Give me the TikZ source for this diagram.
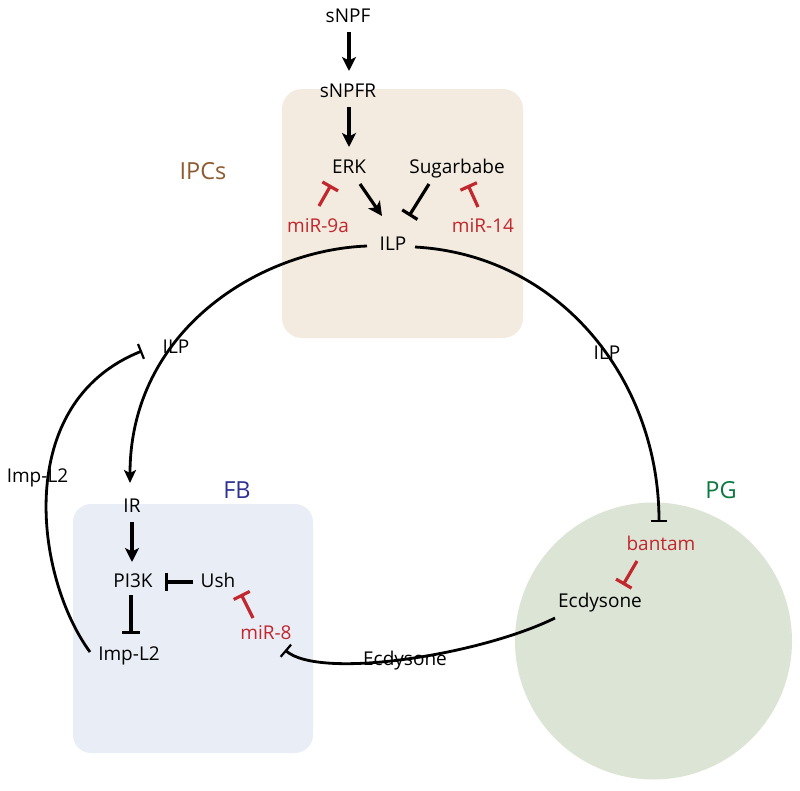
\documentclass[tikz,border=0pt]{standalone}
\usepackage{fontspec}
\setmainfont{Open Sans}
\usetikzlibrary{arrows.meta,calc}
\definecolor{ipcfill}{HTML}{F3EBE0}
\definecolor{fbfill}{HTML}{E9EDF6}
\definecolor{pgfill}{HTML}{DCE5D5}
\definecolor{mirred}{HTML}{C1272D}
\definecolor{ipcbrown}{HTML}{8C5A2E}
\definecolor{fbblue}{HTML}{2E3192}
\definecolor{pggreen}{HTML}{0B7A3E}
\tikzset{
  lbl/.style={anchor=base,inner sep=0pt,text height=13.5pt,text depth=4pt,font=\fontsize{19}{21}\selectfont},
  mir/.style={lbl,text=mirred},
  region/.style={anchor=base,inner sep=0pt,font=\fontsize{23.5}{26}\selectfont},
  act/.style={line width=3.2pt,-{Stealth[length=14pt,width=14pt,inset=3.5pt]}},
  inh/.style={line width=3.2pt,-{Bar[width=18pt]}},
  inhred/.style={inh,draw=mirred},
  arcact/.style={line width=2.8pt,-{Stealth[length=13pt,width=12pt,inset=3pt]}},
  arcinh/.style={line width=2.8pt,-{Bar[width=16pt,line width=2.2pt]}},
}
\begin{document}
\begin{tikzpicture}[x=1pt,y=-1pt]
\useasboundingbox (0,0) rectangle (800,790);
% regions
\fill[ipcfill,rounded corners=20pt] (282,89) rectangle (523,338);
\fill[fbfill,rounded corners=18pt] (73,504) rectangle (313,753);
\fill[pgfill] (653.5,641) circle (138.5);
% region labels
\node[region,text=ipcbrown] (IPCs) at (203,179) {IPCs};
\node[region,text=fbblue] (FB) at (237,498) {FB};
\node[region,text=pggreen] (PG) at (721,498) {PG};
% nodes
\node[lbl] (sNPF) at (348,22) {sNPF};
\node[lbl] (sNPFR) at (348,97) {sNPFR};
\node[lbl] (ERK) at (349,173) {ERK};
\node[lbl] (Sugar) at (457,173) {Sugarbabe};
\node[mir] (miR9a) at (318,232) {miR-9a};
\node[mir] (miR14) at (483,232) {miR-14};
\node[lbl] (ILP) at (393,250) {ILP};
\node[lbl] (ILPl) at (176,353) {ILP};
\node[lbl] (ILPr) at (607,359) {ILP};
\node[lbl] (ImpLab) at (37.5,482) {Imp-L2};
\node[lbl] (IR) at (132,512) {IR};
\node[lbl] (PI3K) at (133,587) {PI3K};
\node[lbl] (Ush) at (218,587) {Ush};
\node[lbl] (ImpL2) at (129,660) {Imp-L2};
\node[mir] (miR8) at (266,639) {miR-8};
\node[lbl] (EcdLab) at (405,665) {Ecdysone};
\node[mir] (bantam) at (661,550) {bantam};
\node[lbl] (Ecd) at (600,607) {Ecdysone};
% IPC connectors
\draw[act] ($(sNPF.base)+(1,10)$) -- ($(sNPFR.base)+(1,-26)$);
\draw[act] ($(sNPFR.base)+(1,10)$) -- ($(ERK.base)+(0,-26)$);
\draw[act] ($(ERK.base)+(11,11)$) -- ($(ILP.base)+(-11,-34)$);
\draw[inh] ($(Sugar.base)+(-28,11)$) -- ($(ILP.base)+(16,-34)$);
\draw[inhred] ($(miR9a.base)+(1,-26)$) -- ($(ERK.base)+(-18,12)$);
\draw[inhred] ($(miR14.base)+(-5,-25)$) -- ($(Sugar.base)+(11,12)$);
% big arcs
\draw[arcact] ($(ILP.base)+(-26,-4)$) .. controls +(-107,4) and +(0,-153) .. ($(IR.base)+(-2,-29)$);
\draw[arcinh] ($(ILP.base)+(22,-3)$) .. controls +(145,8) and +(0,-142) .. ($(bantam.base)+(-2,-28)$);
\draw[arcinh] ($(ImpL2.base)+(-39,-8)$) .. controls +(-55,-75) and +(-130,52) .. ($(ILPl.base)+(-34,-2)$);
\draw[arcinh] ($(Ecd.base)+(-45,11)$) .. controls +(-75,37) and +(35,30) .. ($(miR8.base)+(19,11)$);
% FB connectors
\draw[act] ($(IR.base)+(0,10)$) -- ($(PI3K.base)+(-1,-25)$);
\draw[inh] ($(Ush.base)+(-25,-5)$) -- ($(PI3K.base)+(32,-5)$);
\draw[inh] ($(PI3K.base)+(-2,8)$) -- ($(ImpL2.base)+(2,-26)$);
\draw[inhred] ($(miR8.base)+(-13,-21)$) -- ($(Ush.base)+(23,7)$);
% PG connector
\draw[inhred] ($(bantam.base)+(-24,11)$) -- ($(Ecd.base)+(23,-22)$);
\end{tikzpicture}
\end{document}
